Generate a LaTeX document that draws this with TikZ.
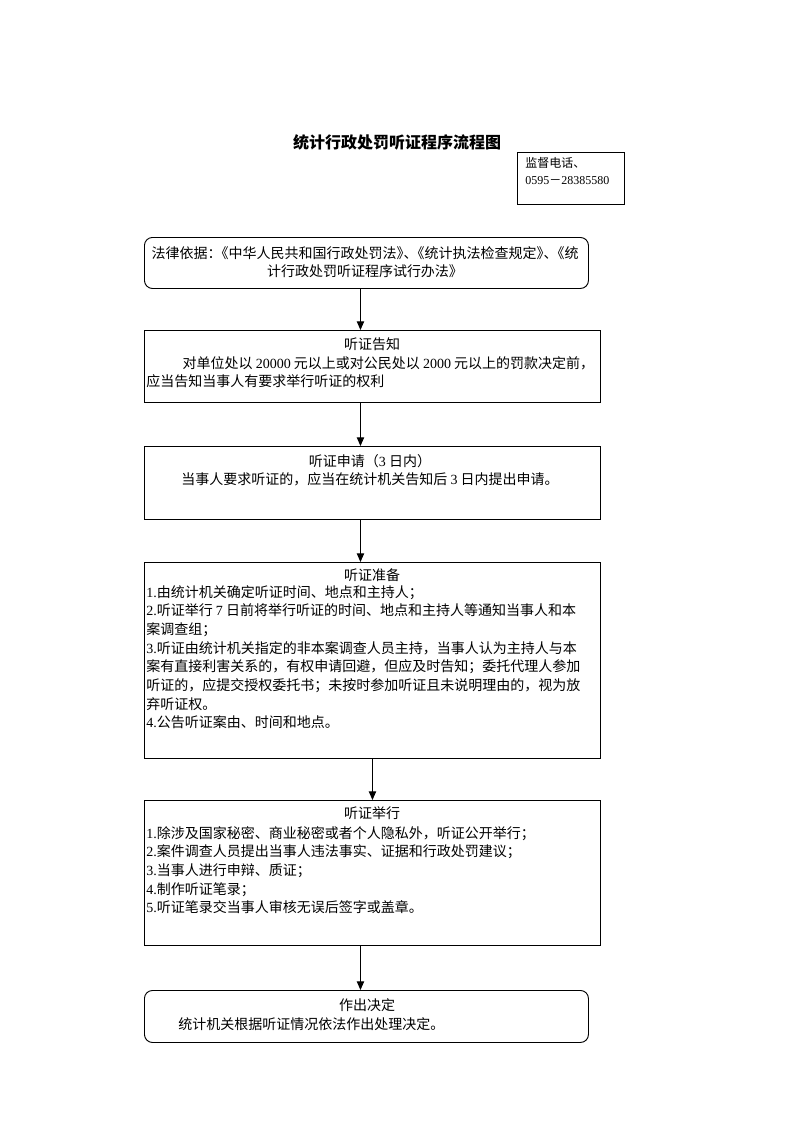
\documentclass[tikz,border=0pt]{standalone}
\usepackage{fontspec}
\setmainfont{Noto Sans CJK SC}
\newfontfamily\lat{Liberation Serif}
\usetikzlibrary{arrows.meta}
\newcommand{\lt}[1]{{\lat #1}}
\newcommand{\sqz}{\hspace{-0.5em}}
\begin{document}
\begin{tikzpicture}[x=0.75pt,y=-0.75pt,
  boxa/.style={draw, line width=0.7pt, anchor=north west, inner sep=0pt},
  rbox/.style={boxa, rounded corners=6pt},
  txt/.style={inner sep=0pt, font=\fontsize{10.5}{14}\selectfont},
  body/.style={txt, align=left, anchor=north west},
  ttl/.style={txt, anchor=center},
  arr/.style={line width=0.7pt, -{Triangle[length=6.5pt,width=5.5pt]}}]
\path[use as bounding box] (0,0) rectangle (793,1122);
\node[inner sep=0pt, font=\bfseries\fontsize{12}{14}\selectfont] (title) at (397,142) {统计行政处罚听证程序流程图};

\node[boxa, minimum width=80.25pt, minimum height=39pt] (phone) at (517,152) {};
\node[inner sep=0pt, align=left, anchor=north west, font=\fontsize{9}{12.75}\selectfont] (phonet) at (525,157) {监督电话、\\\lt{0595}－\lt{28385580}};

\node[rbox, minimum width=333pt, minimum height=38.25pt] (b1) at (144,237) {};
\node[txt, align=center, anchor=center] (b1t) at (365,262) {法律依据：\sqz《中华人民共和国行政处罚法》\sqz、\sqz《统计执法检查规定》\sqz、\sqz《统\\计行政处罚听证程序试行办法》};

\node[boxa, minimum width=342pt, minimum height=54pt] (b2) at (144,330) {};
\node[ttl] (b2h) at (372,344) {听证告知};
\node[body] (b2t) at (146,356) {\hspace*{2.6em}对单位处以 \lt{20000} 元以上或对公民处以 \lt{2000} 元以上的罚款决定前，\\应当告知当事人有要求举行听证的权利};

\node[boxa, minimum width=342pt, minimum height=54.75pt] (b3) at (144,446) {};
\node[ttl] (b3h) at (370,461) {听证申请（\lt{3} 日内）};
\node[ttl] (b3t) at (370,479) {当事人要求听证的，应当在统计机关告知后 \lt{3} 日内提出申请。};

\node[boxa, minimum width=342pt, minimum height=147pt] (b4) at (144,562) {};
\node[ttl] (b4h) at (372,575) {听证准备};
\node[body] (b4t) at (146,585) {\lt{1.}由统计机关确定听证时间、地点和主持人；\\
\lt{2.}听证举行 \lt{7} 日前将举行听证的时间、地点和主持人等通知当事人和本\\
案调查组；\\
\lt{3.}听证由统计机关指定的非本案调查人员主持，当事人认为主持人与本\\
案有直接利害关系的，有权申请回避，但应及时告知；委托代理人参加\\
听证的，应提交授权委托书；未按时参加听证且未说明理由的，视为放\\
弃听证权。\\
\lt{4.}公告听证案由、时间和地点。};

\node[boxa, minimum width=342pt, minimum height=108.75pt] (b5) at (144,800) {};
\node[ttl] (b5h) at (372,813) {听证举行};
\node[body] (b5t) at (146,826) {\lt{1.}除涉及国家秘密、商业秘密或者个人隐私外，听证公开举行；\\
\lt{2.}案件调查人员提出当事人违法事实、证据和行政处罚建议；\\
\lt{3.}当事人进行申辩、质证；\\
\lt{4.}制作听证笔录；\\
\lt{5.}听证笔录交当事人审核无误后签字或盖章。};

\node[rbox, minimum width=333pt, minimum height=39pt] (b6) at (144,990) {};
\node[ttl] (b6h) at (367,1005) {作出决定};
\node[body] (b6t) at (178,1017) {统计机关根据听证情况依法作出处理决定。};

\draw[arr] ([xshift=-4.5pt]b1.south) -- ([xshift=-4.5pt]b1.south |- b2.north);
\draw[arr] ([xshift=-9pt]b2.south) -- ([xshift=-9pt]b2.south |- b3.north);
\draw[arr] ([xshift=-9pt]b3.south) -- ([xshift=-9pt]b3.south |- b4.north);
\draw[arr] (b4.south) -- (b5.north);
\draw[arr] ([xshift=-9pt]b5.south) -- ([xshift=-9pt]b5.south |- b6.north);
\end{tikzpicture}
\end{document}
